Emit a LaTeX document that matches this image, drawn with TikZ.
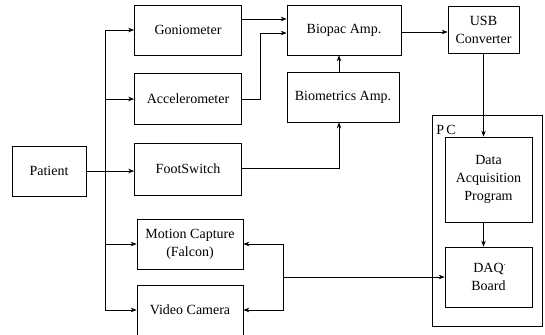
\documentclass[tikz,border=0pt]{standalone}
\usepackage{fontspec}
\setmainfont{Liberation Serif}
\usetikzlibrary{arrows.meta,calc}
\begin{document}
\begin{tikzpicture}[x=1pt,y=-1pt,
  font=\fontsize{14}{18}\selectfont,
  line width=0.7pt,
  blk/.style={draw, rectangle, inner sep=0pt, align=center},
  arr/.style={-{Stealth[length=6pt,width=4.5pt]}}]
\useasboundingbox (0,0) rectangle (545,334);

% PC enclosure
\node[blk, minimum width=110pt, minimum height=211pt] (pc) at (487,220.5) {};
\node[anchor=west, inner sep=0pt] (pclabel) at (436,130) {P\,C};

% blocks
\node[blk, minimum width=74pt, minimum height=50pt] (patient) at (49,171) {Patient};
\node[blk, minimum width=107pt, minimum height=50pt] (gonio) at (188,30) {Goniometer};
\node[blk, minimum width=107pt, minimum height=51pt] (accel) at (188,99) {Accelerometer};
\node[blk, minimum width=107pt, minimum height=52pt] (foot) at (188,169) {FootSwitch};
\node[blk, minimum width=106pt, minimum height=50pt] (motion) at (190,244) {Motion Capture\\(Falcon)};
\node[blk, minimum width=106pt, minimum height=50pt] (video) at (190,310) {Video Camera};
\node[blk, minimum width=114pt, minimum height=50pt] (biopac) at (344,30) {Biopac Amp.};
\node[blk, minimum width=112pt, minimum height=50pt] (biomet) at (343,97) {Biometrics Amp.};
\node[blk, minimum width=71pt, minimum height=47pt] (usb) at (483.5,29.5) {USB\\Converter};
\node[blk, minimum width=87pt, minimum height=85pt] (daqprog) at (488.5,179.5) {Data\\Acquisition\\Program};
\node[blk, minimum width=87pt, minimum height=60pt] (daq) at (488.5,277) {DAQ\rlap{\raisebox{7pt}{\fontsize{8}{8}\selectfont.}}\\Board};

% junction points
\coordinate (trunktop) at (105,30);
\coordinate (trunkbot) at (105,310);
\coordinate (accbend) at (260,99);
\coordinate (ampx) at (339,0);
\coordinate (split) at (283,277);

% patient to sensors
\draw (trunktop) -- (trunkbot);
\draw[arr] (trunktop) -- (gonio.west);
\draw[arr] (trunktop |- accel.west) -- (accel.west);
\draw[arr] (patient.east) -- (patient.east -| foot.west);
\draw[arr] (trunktop |- motion.west) -- (motion.west);
\draw[arr] (trunkbot) -- (video.west);

% sensors to amplifiers
\draw[arr] ([yshift=11pt]gonio.east) -- ([yshift=11pt]gonio.east -| biopac.west);
\draw[arr] (accel.east) -- (accbend) -- (accbend |- {(0,33)}) -- (biopac.west |- {(0,33)});
\draw[arr] ([yshift=1pt]foot.east) -- ([yshift=1pt]foot.east -| ampx) -- (ampx |- biomet.south);
\draw[arr] (ampx |- biomet.north) -- (ampx |- biopac.south);

% amplifier to PC
\draw[arr] (biopac.east |- {(0,32)}) -- (usb.west |- {(0,32)});
\draw[arr] (usb.south) -- (usb.south |- daqprog.north);
\draw[arr] (daqprog.south -| usb.south) -- (daq.north -| usb.south);

% DAQ board to capture devices
\draw[arr] (split) -- (daq.west);
\draw[arr] (split) |- (motion.east);
\draw[arr] (split) |- (video.east);
\end{tikzpicture}
\end{document}
